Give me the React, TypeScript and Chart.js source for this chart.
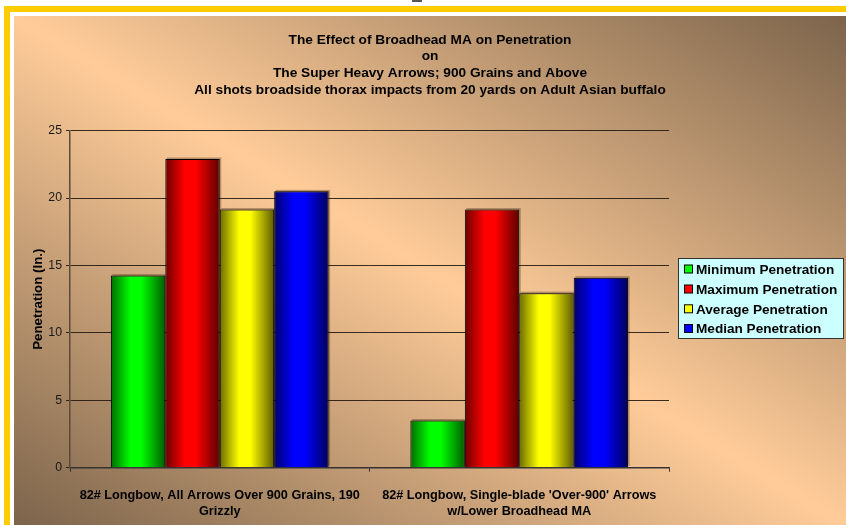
import React, { useEffect, useRef } from "react";
import { Chart, registerables } from "chart.js";

Chart.register(...registerables);

const titleLines = [
  "The Effect of Broadhead MA on Penetration",
  "on",
  "The Super Heavy Arrows; 900 Grains and Above",
  "All shots broadside thorax impacts from 20 yards on Adult Asian buffalo",
];
const categories = [
  ["82# Longbow, All Arrows Over 900 Grains, 190", "Grizzly"],
  ["82# Longbow, Single-blade 'Over-900' Arrows", "w/Lower Broadhead MA"],
];
const seriesNames = [
  "Minimum Penetration",
  "Maximum Penetration",
  "Average Penetration",
  "Median Penetration",
];
const minimumPenetration = [14.25, 3.5];
const maximumPenetration = [22.9, 19.15];
const averagePenetration = [19.15, 12.95];
const medianPenetration = [20.5, 14.1];
const yAxisTitle = "Penetration (In.)";
const yMin = 0;
const yMax = 25;
const yStep = 5;

const seriesValues = [minimumPenetration, maximumPenetration, averagePenetration, medianPenetration];
const seriesRGB = [
  [0, 255, 0],
  [255, 0, 0],
  [255, 255, 0],
  [0, 0, 255],
];

const FONT = "'Liberation Sans', Arial, Helvetica, sans-serif";
const CAT_PCT = 0.727;

function shade(rgb: number[], f: number) {
  return `rgb(${rgb.map((c) => Math.round(c * f)).join(",")})`;
}

function barGradient(ctx: CanvasRenderingContext2D, left: number, right: number, rgb: number[]) {
  const g = ctx.createLinearGradient(left, 0, right, 0);
  g.addColorStop(0, shade(rgb, 0.42));
  g.addColorStop(0.36, shade(rgb, 1));
  g.addColorStop(0.56, shade(rgb, 1));
  g.addColorStop(1, shade(rgb, 0.36));
  return g;
}

const barShadowPlugin = {
  id: "barShadow",
  beforeDatasetsDraw(chart: any) {
    const ctx = chart.ctx;
    ctx.save();
    ctx.fillStyle = "rgba(60,40,20,0.35)";
    chart.data.datasets.forEach((_: any, di: number) => {
      const meta = chart.getDatasetMeta(di);
      meta.data.forEach((el: any) => {
        const w = el.width;
        ctx.fillRect(el.x - w / 2 + 1.5, el.y - 1.5, w, el.base - el.y);
      });
    });
    ctx.restore();
  },
};

const legendPlugin = {
  id: "customLegend",
  afterDraw(chart: any) {
    const ctx = chart.ctx;
    const bx = 664, by = 242, bw = 166, bh = 81;
    ctx.save();
    ctx.fillStyle = "#CCFFFF";
    ctx.fillRect(bx, by, bw, bh);
    ctx.strokeStyle = "#333333";
    ctx.lineWidth = 1;
    ctx.strokeRect(bx + 0.5, by + 0.5, bw - 1, bh - 1);
    const rows = [253.5, 273.5, 293.3, 313];
    ctx.font = `bold 13.6px ${FONT}`;
    ctx.textBaseline = "middle";
    ctx.textAlign = "left";
    chart.data.datasets.forEach((ds: any, i: number) => {
      const cy = rows[i];
      ctx.fillStyle = shade(seriesRGB[i], 1);
      ctx.fillRect(670.5, cy - 4.5, 8, 8);
      ctx.strokeStyle = "#000";
      ctx.strokeRect(670.5, cy - 4.5, 8, 8);
      ctx.fillStyle = "#000";
      ctx.fillText(ds.label, 682, cy + 0.5);
    });
    ctx.restore();
  },
};

export default function App() {
  const canvasRef = useRef<HTMLCanvasElement | null>(null);

  useEffect(() => {
    if (!canvasRef.current) return;
    const chart = new Chart(canvasRef.current, {
      type: "bar",
      data: {
        labels: categories as any,
        datasets: seriesNames.map((name, i) => ({
          label: name,
          data: seriesValues[i],
          borderColor: "#000000",
          borderWidth: 1,
          categoryPercentage: CAT_PCT,
          barPercentage: 1,
          backgroundColor: (c: any) => {
            const ch = c.chart;
            const xs = ch.scales && ch.scales.x;
            if (!xs || c.dataIndex === undefined || !ch.chartArea) return shade(seriesRGB[i], 1);
            const catW = (xs.width / categories.length) * CAT_PCT;
            const barW = catW / seriesNames.length;
            const center = xs.getPixelForValue(c.dataIndex);
            const left = center - catW / 2 + c.datasetIndex * barW;
            return barGradient(ch.ctx, left, left + barW, seriesRGB[i]);
          },
        })),
      },
      options: {
        responsive: false,
        animation: false,
        layout: { padding: 0 },
        plugins: {
          legend: { display: false },
          tooltip: { enabled: false },
          title: {
            display: true,
            text: titleLines,
            color: "#000",
            font: { family: FONT, size: 13.7, weight: "bold", lineHeight: 16.7 / 13.7 },
            padding: { top: 15.6, bottom: 32.3 },
          },
        },
        scales: {
          x: {
            grid: {
              display: true,
              drawOnChartArea: false,
              drawTicks: true,
              tickLength: 4,
              color: "#333",
              offset: true,
            },
            border: { color: "#333", width: 1.5 },
            ticks: {
              color: "#000",
              font: { family: FONT, size: 12.7, weight: "bold", lineHeight: 16 / 12.7 },
              padding: 15.5,
              maxRotation: 0,
              autoSkip: false,
            },
            afterFit: (s: any) => {
              s.height = 57.3;
            },
          },
          y: {
            min: yMin,
            max: yMax,
            ticks: {
              stepSize: yStep,
              color: "#1a1a1a",
              font: { family: FONT, size: 12.3 },
              padding: 4,
            },
            grid: {
              color: "rgba(35,25,15,0.9)",
              lineWidth: 1,
              tickLength: 4,
              drawTicks: true,
            },
            border: { color: "#5a4a3a", width: 1.5 },
            title: {
              display: true,
              text: yAxisTitle,
              color: "#000",
              font: { family: FONT, size: 13.3, weight: "bold", lineHeight: 1.2 },
              padding: { top: 16, bottom: 0 },
            },
            afterFit: (s: any) => {
              s.width = 56;
            },
          },
          legendSpace: {
            type: "linear",
            position: "right",
            display: true,
            ticks: { display: false },
            grid: { display: false, drawTicks: false },
            border: { display: false },
            afterFit: (s: any) => {
              s.width = 177;
            },
          },
        },
      } as any,
      plugins: [barShadowPlugin, legendPlugin],
    });
    return () => chart.destroy();
  }, []);

  return (
    <div
      style={{
        position: "fixed",
        left: 0,
        top: 0,
        width: 846,
        height: 525,
        overflow: "hidden",
        background: "#ffffff",
      }}
    >
      <div style={{ position: "absolute", left: 412, top: 0, width: 10, height: 2, background: "#555" }} />
      <div style={{ position: "absolute", left: 4, top: 6, width: 900, height: 600, background: "#FFCC00" }} />
      <div style={{ position: "absolute", left: 10, top: 12, width: 900, height: 600, background: "#ffffff" }} />
      <div
        style={{
          position: "absolute",
          left: 14,
          top: 16,
          width: 832,
          height: 509,
          background: "linear-gradient(to top right, #7C644B 0%, #FFCC99 50%, #7C644B 100%)",
        }}
      >
        <canvas ref={canvasRef} width={832} height={509} style={{ display: "block" }} />
      </div>
    </div>
  );
}
